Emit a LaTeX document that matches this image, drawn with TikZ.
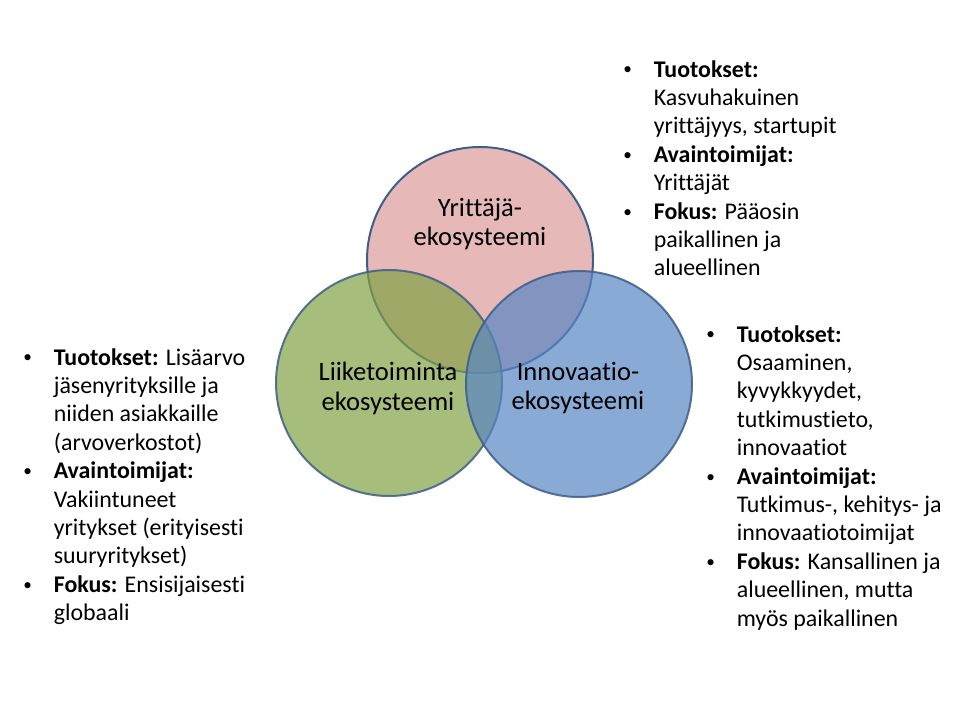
\documentclass[tikz,border=0pt]{standalone}
\usepackage{fontspec}
\setmainfont{Carlito}[Ligatures=CommonOff]
\usepackage{xcolor}
\definecolor{vennline}{RGB}{60,94,136}
\definecolor{vennred}{RGB}{230,184,183}
\definecolor{venngreen}{RGB}{129,162,68}
\definecolor{vennblue}{RGB}{88,134,196}
\newcommand{\dotmark}{\raisebox{1.6pt}{\fontsize{13}{13}\selectfont\textbullet}}

\begin{document}
\begin{tikzpicture}[
    x=0.02646cm, y=-0.02646cm,
    venn/.style={circle, draw=vennline, line width=1.5pt, minimum size=5.98cm,
        inner sep=0pt},
    overlay/.style={fill opacity=0.7, draw opacity=0.85},
    circlelabel/.style={align=center, inner sep=0pt,
        font=\fontsize{20}{22.5}\selectfont},
    facts/.style={anchor=base west, inner sep=0pt,
        font=\fontsize{18}{21.4}\selectfont},
]
    \useasboundingbox[fill=white] (0,0) rectangle (960,720);
    % the three ecosystems
    \node[venn, fill=vennred] (yrittaja) at (480,260) {};
    \node[venn, overlay, fill=venngreen] (liiketoiminta) at (389,383) {};
    \node[venn, overlay, fill=vennblue] (innovaatio) at (579,384) {};
    \node[circlelabel] (yrittajalabel) at (480,224) {Yrittäjä-\\ekosysteemi};
    \node[circlelabel] (liiketoimintalabel) at (388,388) {Liiketoiminta\\ekosysteemi};
    \node[circlelabel] (innovaatiolabel) at (578,388) {Innovaatio-\\ekosysteemi};
    % descriptions
    \node[facts] (yrittajafacts) at (623,77) {%
        \begin{tabular}[t]{@{}p{23pt}@{}l@{}}
        \dotmark & \textbf{Tuotokset:}\\
                 & Kasvuhakuinen\\
                 & yrittäjyys, startupit\\
        \dotmark & \textbf{Avaintoimijat:}\\
                 & Yrittäjät\\
        \dotmark & \textbf{Fokus:} Pääosin\\
                 & paikallinen ja\\
                 & alueellinen
        \end{tabular}};
    \node[facts] (innovaatiofacts) at (706,342) {%
        \begin{tabular}[t]{@{}p{23pt}@{}l@{}}
        \dotmark & \textbf{Tuotokset:}\\
                 & Osaaminen,\\
                 & kyvykkyydet,\\
                 & tutkimustieto,\\
                 & innovaatiot\\
        \dotmark & \textbf{Avaintoimijat:}\\
                 & Tutkimus-, kehitys- ja\\
                 & innovaatiotoimijat\\
        \dotmark & \textbf{Fokus:} Kansallinen ja\\
                 & alueellinen, mutta\\
                 & myös paikallinen
        \end{tabular}};
    \node[facts] (liiketoimintafacts) at (23,365) {%
        \begin{tabular}[t]{@{}p{23pt}@{}l@{}}
        \dotmark & \textbf{Tuotokset:} Lisäarvo\\
                 & jäsenyrityksille ja\\
                 & niiden asiakkaille\\
                 & (arvoverkostot)\\
        \dotmark & \textbf{Avaintoimijat:}\\
                 & Vakiintuneet\\
                 & yritykset (erityisesti\\
                 & suuryritykset)\\
        \dotmark & \textbf{Fokus:} Ensisijaisesti\\
                 & globaali
        \end{tabular}};
\end{tikzpicture}
\end{document}
